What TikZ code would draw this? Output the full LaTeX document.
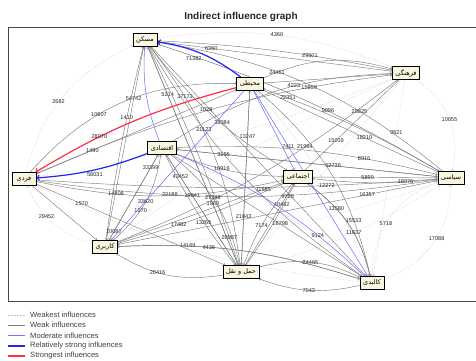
\documentclass[tikz,border=0pt]{standalone}
\usepackage{fontspec}
\setmainfont{Liberation Sans}
\newfontfamily\fafont[Script=Arabic]{DejaVu Sans}
\TeXXeTstate=1
\usetikzlibrary{arrows, shadows, backgrounds}
\definecolor{boxfill}{RGB}{248,246,222}
\definecolor{weakgray}{RGB}{125,125,125}
\definecolor{weakestgray}{RGB}{195,195,195}
\definecolor{modblue}{RGB}{115,115,255}
\definecolor{strblue}{RGB}{35,35,245}
\definecolor{topred}{RGB}{255,45,70}
\definecolor{framegray}{RGB}{70,70,70}

\tikzset{
  factor/.style={draw=black, line width=.75pt, fill=boxfill, minimum width=24pt, minimum height=13pt,
    inner xsep=3pt, inner ysep=1.5pt, font=\fafont\fontsize{6.5}{7}\selectfont,
    drop shadow={shadow xshift=.9pt, shadow yshift=-.9pt, fill=black!45}},
  num/.style={font=\fontsize{5.6}{6}\selectfont, inner sep=0pt, text=black!85},
  weakest/.style={->, densely dotted, weakestgray, line width=.45pt},
  weak/.style={->, weakgray, line width=.45pt},
  moderate/.style={->, modblue, line width=.55pt},
  rstrong/.style={->, strblue, line width=1.2pt},
  strongest/.style={->, topred, line width=1.2pt},
  lgd/.style={anchor=west, font=\fontsize{7.6}{8}\selectfont, text=black!75, inner sep=0pt}
}

\begin{document}
\begin{tikzpicture}[x=1pt, y=-1pt, >=to]
  \useasboundingbox (0,0) rectangle (476,361);
  \node[font=\bfseries\fontsize{10}{12}\selectfont, text=black!85] (title) at (241,17) {Indirect influence graph};
  \draw[framegray, line width=.8pt] (476,27) -- (8,27) -- (8,301) -- (476,301);

  % factors
  \node[factor] (mas)  at (145,40)  {\beginR مسکن\endR};
  \node[factor] (moh)  at (250,84)  {\beginR محیطی\endR};
  \node[factor] (far)  at (406,73)  {\beginR فرهنگی\endR};
  \node[factor] (eqt)  at (162,148) {\beginR اقتصادی\endR};
  \node[factor] (frd)  at (24,179)  {\beginR فردی\endR};
  \node[factor] (ejt)  at (298,177) {\beginR اجتماعی\endR};
  \node[factor] (sia)  at (451,178) {\beginR سیاسی\endR};
  \node[factor] (kar)  at (105,247) {\beginR کاربری\endR};
  \node[factor] (haml) at (241,272) {\beginR حمل و نقل\endR};
  \node[factor] (kal)  at (372,283) {\beginR کالبدی\endR};

  \begin{scope}[on background layer]
  % weakest influences
  \path[weakest]
    (frd) edge[bend left=25] node[num, pos=.45] {2682} (mas)
    (mas) edge[bend left=15] node[num] {4360} (far)
    (far) edge node[num, pos=.27] {9821} (kal)
    (far) edge[bend left=34] node[num] {10055} (sia)
    (sia) edge[bend right=35] node[num, pos=.55] {5718} (kal)
    (kal) edge[bend right=35] node[num, pos=.55] {17088} (sia)
    (kar) edge[bend left=25] node[num, pos=.6] {29452} (frd)
    (kal) edge[bend left=10] (frd)
    (sia) edge[bend left=8] (kar)
    (far) edge[bend right=6] (kar)
    (kal) edge[bend right=8] (eqt)
    (sia) edge[bend right=6] (mas)
    (far) edge[bend left=6] (frd)
    (kal) edge[bend right=10] (moh)
    (haml) edge[bend right=8] (sia)
    (far) edge (haml);

  % weak influences
  \path[weak]
    (far) edge node[num, pos=.77] {6350} (mas)
    (mas) edge[bend left=4] node[num, pos=.66] {29501} (far)
    (moh) edge[bend left=20] node[num, pos=.1] {24451} (far)
    (moh) edge (far)
    (moh) edge node[num, pos=.58] {18210} (sia)
    (sia) edge[bend right=5] node[num, pos=.88] {22351} (moh)
    (eqt) edge[bend left=15] node[num, pos=.58] {4223} (far)
    (frd) edge[bend left=8] node[num, pos=.79] {15959} (far)
    (mas) edge[bend left=6] node[num, pos=.6] {9096} (sia)
    (sia) edge[bend right=15] node[num, pos=.31] {28825} (mas)
    (kar) edge[bend right=8] node[num, pos=.66] {21994} (far)
    (ejt) edge node[num, pos=.33] {15019} (far)
    (moh) edge node[num, pos=.26] {13247} (haml)
    (haml) edge node[num, pos=.28] {21843} (moh)
    (eqt) edge node[num, pos=.6] {52736} (sia)
    (eqt) edge[bend left=8] node[num, pos=.73] {8916} (sia)
    (sia) edge node[num, pos=.82] {3155} (eqt)
    (ejt) edge node[num, pos=.44] {5899} (sia)
    (sia) edge[bend left=6] node[num, pos=.24] {18076} (ejt)
    (frd) edge[bend right=4] node[num, pos=.74] {12272} (sia)
    (frd) edge[bend right=8] node[num, pos=.32] {22188} (sia)
    (frd) edge[bend right=12] node[num, pos=.31] {14808} (ejt)
    (eqt) edge[bend right=10] node[num, pos=.43] {10916} (ejt)
    (kar) edge node[num, pos=.78] {16357} (sia)
    (kar) edge node[num, pos=.88] {11585} (ejt)
    (ejt) edge[bend left=4] node[num, pos=.65] {17482} (kar)
    (haml) edge node[num, pos=.75] {40492} (ejt)
    (haml) edge[bend right=4] node[num, pos=.86] {9728} (ejt)
    (ejt) edge[bend right=10] node[num, pos=.55] {7174} (haml)
    (ejt) edge[bend left=20] node[num, pos=.32] {13580} (kal)
    (kal) edge[bend right=20] node[num, pos=.4] {11637} (ejt)
    (moh) edge[bend left=18] node[num, pos=.75] {15533} (kal)
    (eqt) edge node[num, pos=.57] {16798} (kal)
    (mas) edge node[num, pos=.22] {5214} (haml)
    (mas) edge[bend left=15] node[num, pos=.24] {37173} (haml)
    (haml) edge node[num, pos=.28] {1960} (mas)
    (haml) edge[bend right=4] node[num, pos=.11] {20987} (mas)
    (mas) edge node[num, pos=.33] {38084} (kal)
    (kal) edge[bend left=12] node[num, pos=.7] {21123} (mas)
    (mas) edge[bend right=10] node[num, pos=.45] {1028} (ejt)
    (mas) edge node[num, pos=.27] {54742} (kar)
    (kar) edge[bend left=3] node[num, pos=.64] {1410} (mas)
    (frd) edge node[num, pos=.28] {1490} (moh)
    (frd) edge[bend left=25] node[num, pos=.38] {10607} (moh)
    (frd) edge node[num, pos=.24] {1570} (haml)
    (frd) edge (kar)
    (eqt) edge node[num, pos=.2] {43452} (haml)
    (haml) edge node[num, pos=.63] {19641} (eqt)
    (eqt) edge[bend left=20] node[num, pos=.45] {27348} (haml)
    (eqt) edge[bend right=6] node[num, pos=.6] {13265} (haml)
    (kar) edge node[num, pos=.85] {33399} (eqt)
    (kar) edge[bend right=20] node[num, pos=.4] {1270} (eqt)
    (eqt) edge node[num, pos=.9] {10087} (kar)
    (haml) edge[bend left=20] node[num, pos=.6] {20416} (kar)
    (kar) edge[bend left=10] node[num, pos=.27] {14169} (kal)
    (kal) edge[bend right=10] node[num, pos=.64] {4436} (kar)
    (haml) edge[bend left=20] node[num] {24465} (kal)
    (kal) edge[bend left=16] node[num] {7043} (haml);

  % moderate influences
  \path[moderate]
    (eqt) edge[bend left=12] (mas)
    (moh) edge node[num, pos=.3] {7411} (kal)
    (moh) edge (ejt)
    (eqt) edge[bend left=10] node[num, pos=.74] {9124} (kal)
    (moh) edge node[num, pos=.74] {33620} (kar);

  % relatively strong and strongest influences
  \draw[rstrong] (moh) to[bend right=14] node[num, pos=.6, below=5pt] {71382} (mas);
  \draw[rstrong] (eqt) to[bend left=8] node[num, pos=.48, below=2pt] {58031} (frd);
  \draw[strongest] (moh) to[bend right=8] node[num, pos=.68] {28070} (frd);
  \end{scope}

  % legend
  \node[lgd] (lg1) at (30,315) {Weakest influences};
  \node[lgd] (lg2) at (30,325) {Weak influences};
  \node[lgd] (lg3) at (30,335.5) {Moderate influences};
  \node[lgd] (lg4) at (30,346) {Relatively strong influences};
  \node[lgd] (lg5) at (30,356) {Strongest influences};
  \foreach \i/\s in {1/weakest,2/weak,3/moderate,4/rstrong,5/strongest}
    \draw[\s, -] ([xshift=-22pt]lg\i.west) -- ([xshift=-5pt]lg\i.west);
\end{tikzpicture}
\end{document}
